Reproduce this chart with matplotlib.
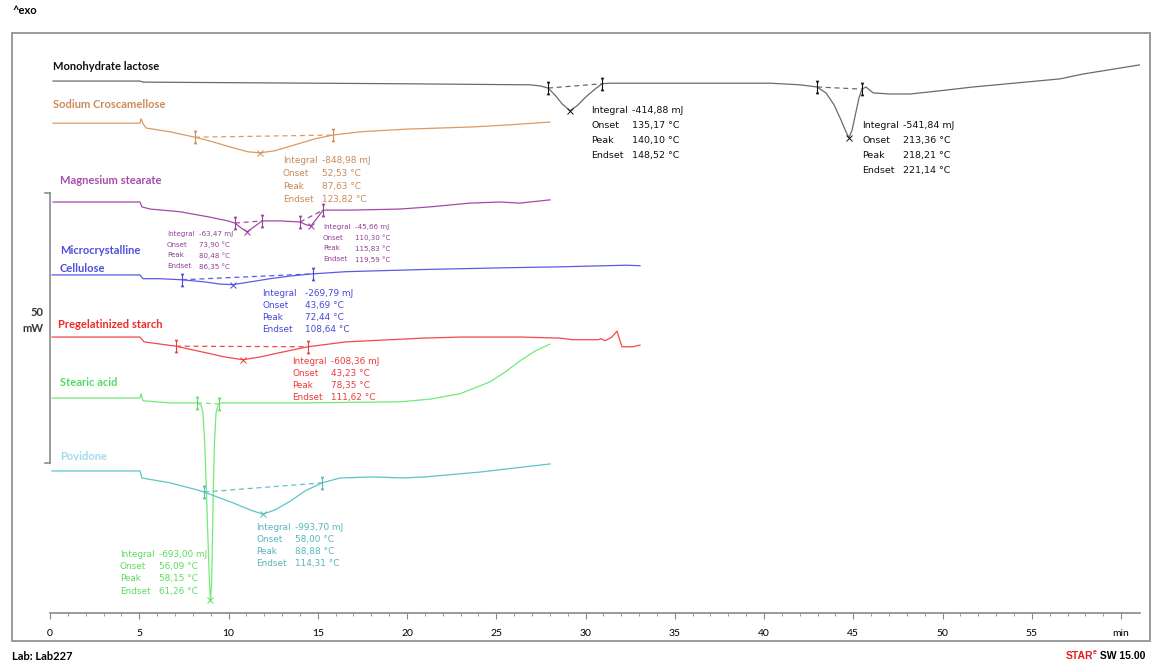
import numpy as np
import matplotlib.pyplot as plt
from matplotlib.patches import Rectangle
from matplotlib.transforms import offset_copy

#%% DSC traces: time [min] vs heat flow [mW] (display offsets included)
lactose_t  = [0.17, 5.04, 5.21, 19.61, 26.89, 27.45, 27.90, 28.29, 28.68, 29.13, 29.52, 30.03, 30.53,
              30.92, 31.37, 36.41, 40.34, 42.02, 42.97, 43.47, 43.92, 44.31, 44.59, 44.76, 44.93,
              45.15, 45.32, 45.49, 45.71, 46.11, 47.06, 48.18, 49.86, 51.71, 56.58, 57.87, 61.06]
lactose_mw = [98.5, 98.5, 98.3, 98.0, 97.8, 97.6, 97.2, 95.9, 94.3, 93.0, 93.9, 95.6, 97.0,
              98.0, 98.1, 98.1, 98.1, 97.8, 97.4, 96.3, 94.1, 91.3, 89.1, 88.0, 89.4,
              92.8, 95.4, 97.0, 97.4, 96.3, 96.1, 96.1, 96.7, 97.4, 98.9, 99.8, 101.5]

croscar_t  = [0.17, 5.04, 5.10, 5.21, 5.38, 6.72, 8.12, 8.96, 10.08, 11.09, 11.76, 12.61, 13.73,
              14.85, 15.85, 17.37, 20.00, 23.70, 25.77, 28.01]
croscar_mw = [90.7, 90.7, 91.5, 90.6, 89.8, 89.1, 88.1, 87.4, 86.3, 85.4, 85.2, 85.6, 86.7,
              87.8, 88.5, 89.1, 89.6, 90.0, 90.4, 90.9]

mgst_t  = [0.17, 5.04, 5.15, 5.60, 7.28, 8.96, 9.97, 10.36, 10.70, 11.04, 11.43, 11.88, 12.89,
           14.01, 14.34, 14.62, 14.96, 15.29, 16.81, 19.61, 21.29, 23.53, 25.21, 26.33, 28.01]
mgst_mw = [76.1, 76.1, 75.2, 74.8, 74.3, 73.3, 72.6, 72.2, 71.3, 70.6, 71.5, 72.6, 72.6,
           72.4, 71.9, 71.7, 73.1, 74.6, 74.6, 74.8, 75.2, 75.9, 76.1, 75.9, 76.5]

mcc_t  = [0.11, 5.04, 5.21, 6.16, 7.39, 8.68, 9.52, 10.25, 11.20, 12.32, 13.45, 14.73, 16.58,
          20.90, 25.15, 28.57, 32.32, 33.05]
mcc_mw = [62.6, 62.6, 61.9, 61.9, 61.7, 61.3, 60.9, 60.8, 61.3, 61.9, 62.4, 62.8, 63.2,
          63.6, 63.9, 64.1, 64.4, 64.3]

starch_t  = [0.11, 5.04, 5.27, 7.06, 8.85, 9.80, 10.81, 11.76, 12.72, 14.45, 16.58, 20.90, 23.03,
             26.33, 28.57, 29.30, 30.70, 30.87, 31.09, 31.48, 31.76, 32.04, 32.66, 33.05]
starch_mw = [51.1, 51.1, 50.2, 49.4, 48.1, 47.4, 46.9, 47.4, 48.1, 49.3, 50.2, 50.9, 51.1,
             51.1, 50.9, 50.6, 50.6, 50.8, 50.4, 51.1, 52.2, 49.3, 49.3, 49.6]

stearic_t  = [0.11, 5.04, 5.10, 5.21, 6.72, 8.24, 8.46, 8.57, 8.66, 8.74, 8.85, 8.94, 8.99,
              9.05, 9.10, 9.16, 9.22, 9.30, 9.41, 9.52, 14.01, 19.61, 21.29, 22.97, 24.65,
              25.49, 26.33, 27.17, 28.01]
stearic_mw = [39.8, 39.8, 40.6, 39.3, 38.9, 38.9, 38.5, 37.0, 32.0, 24.6, 13.5, 5.2, 2.4,
              5.2, 13.5, 24.6, 32.0, 37.0, 38.5, 38.9, 38.9, 39.1, 39.6, 40.6, 42.8,
              44.6, 46.7, 48.5, 49.8]

povidone_t  = [0.11, 5.04, 5.15, 6.72, 8.24, 8.63, 10.25, 11.20, 11.93, 12.61, 13.45, 14.29,
               15.24, 16.25, 18.10, 19.78, 21.01, 24.09, 28.01]
povidone_mw = [26.3, 26.3, 25.0, 24.1, 22.8, 22.4, 20.4, 19.1, 18.3, 19.1, 20.7, 22.6,
               24.1, 25.0, 25.2, 25.0, 25.2, 26.1, 27.6]

#%% Peak evaluations: integration limits, peak time, result texts
eval_rows = ['Integral', 'Onset', 'Peak', 'Endset']
lactose_evals = [((27.90, 30.92), 29.13, ['-414,88 mJ', '135,17 °C', '140,10 °C', '148,52 °C']),
                 ((42.97, 45.49), 44.76, ['-541,84 mJ', '213,36 °C', '218,21 °C', '221,14 °C'])]
croscar_evals = [((8.12, 15.85), 11.76, ['-848,98 mJ', '52,53 °C', '87,63 °C', '123,82 °C'])]
mgst_evals    = [((10.36, 11.88), 11.04, ['-63,47 mJ', '73,90 °C', '80,48 °C', '86,35 °C']),
                 ((14.01, 15.29), 14.62, ['-45,66 mJ', '110,30 °C', '115,83 °C', '119,59 °C'])]
mcc_evals     = [((7.39, 14.73), 10.25, ['-269,79 mJ', '43,69 °C', '72,44 °C', '108,64 °C'])]
starch_evals  = [((7.06, 14.45), 10.81, ['-608,36 mJ', '43,23 °C', '78,35 °C', '111,62 °C'])]
stearic_evals = [((8.24, 9.47), 8.99, ['-693,00 mJ', '56,09 °C', '58,15 °C', '61,26 °C'])]
povidone_evals = [((8.63, 15.24), 11.93, ['-993,70 mJ', '58,00 °C', '88,88 °C', '114,31 °C'])]

time_ticks  = np.arange(0, 61, 5)
time_labels = [str(v) for v in time_ticks[:-1]] + ['min']

#%% Sample styling and text placement
# (name lines, label px pos, label colour, curve colour, text colour, data, evals,
#  eval text anchors (t, mW), value column offset px, row spacing px, font size)
samples = [
    (['Monohydrate lactose'], (53, 66), '#111111', '#6A6A6A', '#111111',
     (lactose_t, lactose_mw), lactose_evals, [(30.31, 93.0), (45.49, 90.2)], 41, 15.0, 6.8),
    (['Sodium Croscamellose'], (53, 105), '#CC8A58', '#DB9A62', '#C98A55',
     (croscar_t, croscar_mw), croscar_evals, [(13.05, 83.7)], 39, 12.7, 6.4),
    (['Magnesium stearate'], (60, 181), '#A84CAC', '#A24AA8', '#943C98',
     (mgst_t, mgst_mw), mgst_evals, [(6.55, 70.2), (15.29, 71.5)], 32, 10.8, 5.1),
    (['Microcrystalline', 'Cellulose'], (60, 250), '#4E4EDC', '#5A5AE6', '#4848D8',
     (mcc_t, mcc_mw), mcc_evals, [(11.88, 59.1)], 43, 12.0, 6.4),
    (['Pregelatinized starch'], (58, 325), '#EE2A2A', '#F24848', '#EE3A3A',
     (starch_t, starch_mw), starch_evals, [(13.56, 46.5)], 39, 11.8, 6.4),
    (['Stearic acid'], (60, 383), '#4FDC66', '#72EA7A', '#5CDC5C',
     (stearic_t, stearic_mw), stearic_evals, [(3.92, 10.9)], 39, 12.3, 6.4),
    (['Povidone'], (60, 457), '#A2D9EC', '#5CC4C8', '#55B6BC',
     (povidone_t, povidone_mw), povidone_evals, [(11.54, 15.9)], 39, 12.0, 6.4),
]

#### Figure and frame
W, H = 1153, 662
fig = plt.figure(figsize=(W / 100, H / 100), dpi=100)
fig.patch.set_facecolor('white')

def fx(x):
    return x / W

def fy(y):
    return 1 - y / H

fig.patches.append(Rectangle((fx(12), fy(641)), fx(1150) - fx(12), fy(33) - fy(641),
                             transform=fig.transFigure, fill=False, ec='#9A9A9A', lw=1.4))

ax = fig.add_axes([fx(50), fy(613), fx(1140) - fx(50), fy(40) - fy(613)])
ax.set_xlim(0, 61.06)
ax.set_ylim(0, 106.1)
ax.patch.set_alpha(0)
for s in ['left', 'right', 'top']:
    ax.spines[s].set_visible(False)
ax.spines['bottom'].set_color('#8A8A8A')
ax.spines['bottom'].set_linewidth(1.2)
ax.set_yticks([])
ax.set_xticks(time_ticks)
ax.set_xticklabels(time_labels, fontsize=7.5, family='Lato')
ax.set_xticks(np.arange(0, 61, 1), minor=True)
ax.tick_params(axis='x', which='major', direction='out', length=4.5, width=0.8,
               color='#8A8A8A', pad=7)
ax.tick_params(axis='x', which='minor', direction='out', length=2.5, width=0.6,
               color='#8A8A8A')

px_mw = 5.4   # pixels per mW on the display

#### Curves, evaluations and labels
for names, lpos, lcol, ccol, tcol, (t, mw), evals, anchors, voff, dy, fs in samples:
    t = np.array(t)
    mw = np.array(mw)
    ax.plot(t, mw, color=ccol, lw=0.9, solid_joinstyle='round')

    for ((t0, t1), tp, vals), (at, av) in zip(evals, anchors):
        y0 = np.interp(t0, t, mw)
        y1 = np.interp(t1, t, mw)
        yp = np.interp(tp, t, mw)
        ax.plot([t0, t1], [y0, y1], color=ccol, lw=0.9, ls=(0, (4, 3)))
        for tl, yl in [(t0, y0), (t1, y1)]:
            ax.plot([tl, tl], [yl - 6 / px_mw, yl + 6 / px_mw], color=tcol, lw=0.8)
            ax.plot(tl, yl + 5 / px_mw, marker='v', ms=2.6, color=tcol, mew=0)
            ax.plot(tl, yl - 5 / px_mw, marker='^', ms=2.6, color=tcol, mew=0)
        ax.plot(tp, yp, marker='x', ms=5, mew=0.7, color=tcol)

        for i, (row, val) in enumerate(zip(eval_rows, vals)):
            tr = offset_copy(ax.transData, fig=fig, x=0, y=-i * dy * 0.72, units='points')
            ax.text(at, av, row, transform=tr, fontsize=fs, color=tcol,
                    va='center', ha='left', family='DejaVu Sans')
            tr2 = offset_copy(ax.transData, fig=fig, x=voff * 0.72, y=-i * dy * 0.72,
                              units='points')
            ax.text(at, av, val, transform=tr2, fontsize=fs, color=tcol,
                    va='center', ha='left', family='DejaVu Sans')

    for j, nm in enumerate(names):
        fig.text(fx(lpos[0]), fy(lpos[1] + j * 18), nm, color=lcol, fontsize=8,
                 fontweight='bold', family='Lato', va='center', ha='left')

#### 50 mW scale bar
sb_lo, sb_hi = 27.8, 77.8
ax.plot([0, 0], [sb_lo, sb_hi], color='#8A8A8A', lw=1.2, clip_on=False)
for yb in (sb_lo, sb_hi):
    ax.plot([-0.3, 0], [yb, yb], color='#8A8A8A', lw=1.2, clip_on=False)
fig.text(fx(43), fy(312), '50', fontsize=8, family='Lato', fontweight='bold',
         color='#333333', ha='right', va='center')
fig.text(fx(43), fy(328), 'mW', fontsize=8, family='Lato', fontweight='bold',
         color='#333333', ha='right', va='center')

#### Header and footer
fig.text(fx(12), fy(10), '^exo', fontsize=8, fontweight='bold', family='Lato', va='center')
fig.text(fx(12), fy(656), 'Lab: Lab227', fontsize=8, fontweight='bold', family='Lato',
         va='center')

# software tag: red STARe, black version text, right aligned at the frame
renderer = fig.canvas.get_renderer()
tag_font = dict(fontsize=7.5, fontweight='bold', family='Liberation Sans', va='center')
ver = fig.text(fx(1145), fy(656), ' SW 15.00', ha='right', color='black', **tag_font)
x_right = ver.get_window_extent(renderer).x0
sup = fig.text(x_right / W, fy(653), 'e', ha='right', color='#E02020',
               fontsize=5, fontweight='bold', family='Liberation Sans', va='center')
x_right = sup.get_window_extent(renderer).x0
fig.text(x_right / W, fy(656), 'STAR', ha='right', color='#E02020', **tag_font)

fig.savefig('out.png', dpi=100)
